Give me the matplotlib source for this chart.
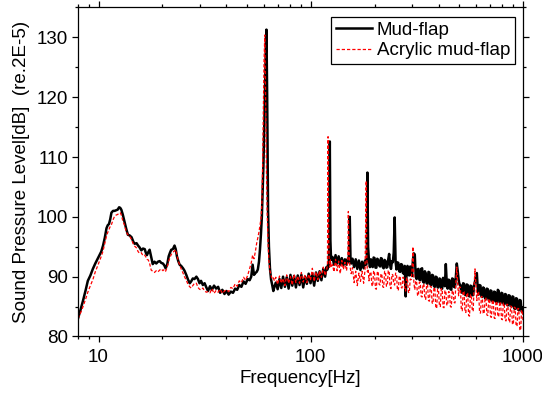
import matplotlib
matplotlib.use('Agg')
import matplotlib.pyplot as plt
from matplotlib.ticker import FixedLocator, NullFormatter, MultipleLocator

plt.rcParams['font.family'] = ['Liberation Sans', 'DejaVu Sans']

# frequency grid (Hz)
freq_hz = [
    # 8 - 33 Hz
    8.0, 8.2, 8.45, 8.7, 8.9, 9.15, 9.4, 9.65, 9.9, 10.1,
    10.3, 10.5, 10.7, 10.9, 11.05, 11.2, 11.35, 11.5, 11.7, 11.9,
    12.1, 12.3, 12.5, 12.65, 12.8, 13.0, 13.25, 13.5, 13.75, 14.0,
    14.3, 14.6, 14.8, 15.1, 15.35, 15.6, 15.9, 16.2, 16.5, 16.7,
    16.9, 17.15, 17.4, 17.7, 18.0, 18.35, 18.7, 19.05, 19.4, 19.75,
    20.1, 20.4, 20.7, 21.05, 21.4, 21.7, 22.0, 22.4, 22.8, 23.1,
    23.4, 23.75, 24.1, 24.5, 25.0, 25.4, 25.9, 26.4, 26.9, 27.3,
    27.8, 28.3, 28.9, 29.4, 29.9, 30.4, 31.0, 31.6, 32.2, 32.8,
    # 33 - 67 Hz
    33.5, 34.2, 35.0, 35.8, 36.6, 37.4, 38.3, 39.2, 40.1, 41.0,
    42.0, 43.0, 44.0, 45.0, 46.0, 47.1, 48.2, 49.3, 50.4, 51.5,
    52.4, 53.2, 54.0, 54.8, 55.6, 56.3, 57.0, 57.6, 58.2, 58.8,
    59.3, 59.8, 60.2, 60.7, 61.2, 61.8, 62.3, 62.9, 63.5, 64.2,
    65.0, 65.8, 66.6, 67.4,
    # 68 - 119 Hz
    68.4, 69.8, 71.2, 72.6, 74.0, 75.5, 77.0, 78.6, 80.2, 81.8,
    83.4, 85.1, 86.8, 88.5, 90.3, 92.1, 93.9, 95.8, 97.7, 99.7,
    101.7, 103.7, 105.8, 107.9, 110.0, 112.2, 114.5, 116.8, 118.6,
    # 120 Hz peak
    119.8, 120.6, 121.4, 122.2, 122.9, 123.7, 124.6,
    # 126 - 155 Hz
    126.5, 128.6, 130.8, 133.0, 135.3, 137.6, 140.0, 142.4, 144.8, 147.3,
    149.4, 150.3, 151.2, 152.6, 153.8, 155.0,
    # 157 - 190 Hz
    157.2, 160.0, 162.8, 165.6, 168.5, 171.4, 174.4, 177.4, 180.2, 182.4,
    183.6, 184.8, 186.2, 188.0, 190.0,
    # 192 - 1000 Hz
    192.0, 193.9, 195.8, 197.7, 199.7, 201.7, 203.7, 205.7, 207.8, 209.9,
    212.0, 214.1, 216.2, 218.3, 220.5, 222.7, 224.9, 227.1, 229.4, 231.7,
    234.0, 236.3, 238.7, 241.1, 243.5, 245.9, 248.4, 250.9, 253.4, 255.9,
    258.5, 261.1, 263.7, 266.3, 269.0, 271.7, 274.4, 277.1, 279.9, 282.7,
    285.5, 288.3, 291.2, 294.1, 297.0, 299.9, 302.9, 305.9, 309.0, 312.1,
    315.2, 318.3, 321.5, 324.7, 327.9, 331.2, 334.5, 337.8, 341.2, 344.6,
    348.0, 351.5, 355.0, 358.5, 362.1, 365.7, 369.3, 373.0, 376.7, 380.4,
    384.2, 388.0, 391.9, 395.8, 399.7, 403.7, 407.7, 411.8, 415.9, 420.0,
    424.2, 428.4, 432.7, 437.0, 441.4, 445.8, 450.2, 454.7, 459.2, 463.8,
    468.4, 473.1, 477.8, 482.6, 487.4, 492.2, 497.1, 502.0, 507.0, 512.0,
    517.1, 522.2, 527.4, 532.6, 537.9, 543.3, 548.7, 554.2, 559.7, 565.3,
    570.9, 576.6, 582.3, 588.1, 593.9, 599.8, 605.8, 611.8, 617.9, 624.1,
    630.3, 636.6, 642.9, 649.3, 655.8, 662.3, 668.9, 675.6, 682.3, 689.1,
    695.9, 702.8, 709.8, 716.9, 724.0, 731.2, 738.5, 745.9, 753.3, 760.8,
    768.4, 776.1, 783.8, 791.6, 799.5, 807.5, 815.5, 823.6, 831.8, 840.1,
    848.4, 856.9, 865.4, 874.0, 882.7, 891.5, 900.4, 909.4, 918.4, 927.6,
    936.8, 946.1, 955.5, 965.0, 974.6, 984.3, 994.1, 1000.0,
]

mud_flap_db = [
    83.0, 84.3, 86.0, 87.8, 89.3, 90.2, 91.3, 92.2, 93.0, 93.6,
    94.2, 95.2, 96.5, 98.1, 98.6, 98.8, 99.6, 100.7, 101.0, 101.0,
    101.1, 101.2, 101.6, 101.5, 101.2, 100.4, 99.2, 98.0, 97.0, 96.9,
    96.6, 95.8, 95.5, 95.6, 95.2, 94.9, 94.4, 94.7, 94.6, 94.0,
    93.6, 94.1, 94.5, 93.3, 92.1, 92.5, 92.2, 92.5, 92.6, 92.3,
    92.2, 91.9, 91.4, 92.0, 93.4, 94.0, 94.5, 94.6, 95.2, 94.6,
    93.4, 92.6, 92.0, 91.8, 91.4, 91.0, 90.3, 89.5, 88.9, 89.2,
    89.7, 89.6, 90.0, 89.6, 88.9, 89.3, 88.6, 88.9, 88.2, 87.6,
    88.4, 87.8, 88.5, 88.0, 88.3, 87.3, 87.8, 87.1, 87.6, 87.0,
    87.5, 87.3, 88.0, 87.8, 88.6, 88.3, 89.2, 88.8, 89.6, 89.4,
    90.0, 92.0, 90.3, 90.6, 90.8, 91.2, 92.5, 94.5, 97.0, 100.0,
    104.0, 108.5, 113.0, 119.0, 126.0, 131.3, 120.0, 101.0, 95.0, 91.4,
    89.5, 88.6, 87.6, 88.3,
    89.0, 87.9, 89.6, 88.1, 90.0, 88.3, 89.9, 88.0, 90.3, 88.5,
    90.1, 88.2, 90.2, 88.6, 90.3, 88.2, 90.0, 88.8, 90.5, 88.9,
    90.5, 88.5, 90.7, 89.3, 90.9, 89.4, 91.3, 90.0, 91.6,
    91.2, 92.0, 91.6, 95.0, 112.6, 96.0, 92.8,
    93.3, 92.0, 93.6, 92.2, 93.4, 92.0, 93.1, 91.9, 92.9, 92.0,
    93.0, 92.4, 93.6, 100.0, 93.2, 92.2,
    93.0, 91.6, 92.9, 91.3, 92.7, 91.1, 92.5, 91.4, 92.7, 92.0,
    93.0, 107.4, 95.0, 92.6, 91.6,
    92.9, 91.8, 91.6, 93.2, 93.1, 91.5, 91.5, 93.0, 92.8, 91.9,
    91.7, 93.1, 93.0, 91.6, 91.4, 92.8, 92.6, 91.5, 91.6, 92.9,
    93.8, 92.0, 91.3, 92.6, 92.4, 94.0, 99.9, 92.5, 91.2, 92.4,
    92.3, 90.9, 90.8, 92.1, 92.0, 90.6, 90.5, 91.8, 86.7, 90.4,
    91.8, 90.3, 90.2, 91.7, 91.6, 90.1, 92.8, 93.9, 93.7, 90.0,
    89.6, 91.2, 91.3, 89.5, 89.4, 91.3, 91.4, 89.2, 89.0, 90.9,
    90.6, 88.9, 88.8, 90.8, 90.7, 88.7, 88.6, 90.3, 90.2, 88.4,
    88.3, 90.0, 89.9, 88.2, 88.2, 89.7, 89.6, 88.1, 88.0, 89.8,
    89.7, 88.4, 92.1, 89.0, 88.0, 89.5, 89.4, 87.9, 87.8, 89.7,
    89.6, 88.3, 88.2, 90.0, 92.2, 91.0, 89.5, 88.7, 88.6, 87.4,
    87.3, 88.9, 88.8, 87.0, 86.9, 88.7, 88.6, 86.8, 86.7, 88.5,
    88.4, 86.9, 86.9, 88.6, 89.2, 90.2, 90.6, 88.0, 87.0, 88.6,
    88.5, 86.7, 86.6, 88.2, 88.0, 86.4, 86.3, 88.0, 87.9, 86.1,
    86.0, 87.7, 87.6, 85.9, 85.8, 87.5, 87.4, 85.8, 85.7, 87.8,
    87.6, 85.7, 85.6, 87.3, 87.2, 85.5, 85.4, 87.1, 87.0, 85.3,
    85.2, 86.9, 86.8, 85.1, 85.0, 86.7, 86.6, 84.7, 84.6, 86.4,
    86.3, 84.5, 84.4, 86.1, 86.0, 84.2, 84.2, 84.8,
]

acrylic_db = [
    83.0, 83.8, 85.0, 86.3, 87.4, 88.5, 89.5, 90.8, 91.8, 92.6,
    93.4, 94.3, 95.6, 96.8, 97.4, 97.9, 98.4, 98.7, 99.5, 100.1,
    100.3, 100.4, 100.6, 100.7, 100.3, 99.4, 98.6, 97.5, 97.0, 96.8,
    96.2, 95.4, 95.1, 94.8, 94.2, 93.9, 94.0, 93.5, 93.6, 93.3,
    92.9, 92.8, 92.2, 91.1, 90.9, 90.7, 91.0, 90.8, 91.1, 91.3,
    91.0, 91.2, 90.9, 91.6, 92.6, 93.2, 93.7, 94.1, 94.3, 94.5,
    93.6, 92.6, 92.0, 91.3, 90.6, 90.0, 89.4, 88.7, 88.3, 88.1,
    88.5, 88.9, 88.9, 88.2, 87.9, 87.8, 88.1, 87.6, 87.4, 87.5,
    87.3, 88.0, 87.2, 87.7, 87.4, 87.9, 87.2, 87.6, 87.8, 87.5,
    88.2, 88.0, 88.8, 88.4, 89.3, 89.0, 89.9, 89.4, 90.2, 91.4,
    92.3, 93.6, 93.0, 94.2, 95.6, 96.5, 97.5, 98.6, 99.6, 102.0,
    109.0, 118.0, 126.0, 130.4, 121.0, 108.0, 100.5, 95.5, 92.5, 91.0,
    90.2, 89.6, 89.8, 89.3,
    89.9, 88.7, 90.1, 88.9, 89.7, 88.5, 90.3, 88.9, 90.0, 88.6,
    90.4, 89.0, 90.1, 88.9, 90.7, 89.1, 90.3, 89.0, 90.4, 89.4,
    91.4, 89.2, 90.8, 89.5, 91.0, 89.9, 91.6, 90.2, 91.0,
    92.0, 113.4, 96.5, 92.6, 91.6, 92.8, 91.6,
    92.0, 90.8, 92.9, 91.0, 92.6, 90.5, 92.7, 91.2, 92.4, 91.0,
    92.4, 100.9, 94.5, 92.0, 91.2, 90.5,
    91.5, 89.0, 90.9, 88.5, 90.6, 89.2, 90.9, 88.9, 91.2, 106.0,
    93.0, 90.8, 91.3, 89.3, 90.6,
    90.8, 88.6, 88.4, 91.0, 90.6, 88.0, 87.9, 90.7, 90.9, 88.7,
    88.6, 90.5, 90.4, 88.3, 88.2, 90.9, 90.8, 88.4, 88.5, 91.0,
    91.0, 88.2, 88.0, 90.4, 90.3, 88.8, 88.6, 90.6, 90.5, 87.8,
    87.7, 90.1, 90.0, 88.2, 88.1, 89.9, 89.8, 87.7, 87.6, 89.8,
    89.7, 87.4, 87.3, 89.6, 89.5, 91.0, 95.0, 89.0, 87.8, 89.3,
    89.2, 86.9, 86.8, 89.1, 89.0, 86.7, 86.6, 88.8, 88.7, 86.3,
    86.2, 88.7, 88.6, 86.0, 85.9, 88.4, 88.3, 85.6, 85.5, 88.2,
    88.1, 84.8, 84.7, 87.9, 87.8, 85.1, 85.0, 88.0, 87.9, 84.9,
    84.8, 87.7, 87.6, 85.3, 85.2, 87.5, 87.4, 85.0, 84.9, 87.7,
    87.6, 85.7, 85.6, 89.0, 91.6, 88.8, 86.8, 88.3, 88.2, 84.4,
    84.3, 87.6, 87.5, 84.1, 84.0, 87.3, 87.2, 83.5, 83.4, 87.0,
    86.9, 84.3, 84.2, 88.5, 91.3, 88.8, 86.0, 87.5, 87.4, 84.0,
    83.9, 86.7, 86.6, 83.9, 83.8, 86.5, 86.4, 83.6, 83.5, 86.3,
    86.2, 83.3, 83.2, 86.1, 86.0, 83.1, 83.0, 85.9, 85.8, 83.4,
    83.3, 85.8, 85.7, 82.9, 82.8, 85.6, 85.5, 82.7, 82.6, 85.4,
    85.3, 82.5, 82.4, 85.1, 85.0, 82.1, 82.0, 84.9, 84.8, 81.8,
    81.7, 84.7, 84.6, 81.2, 81.0, 84.4, 84.3, 82.5,
]

series_labels = ['Mud-flap', 'Acrylic mud-flap']
x_ticks = [10, 100, 1000]
x_tick_labels = ['10', '100', '1000']
y_ticks = [80, 90, 100, 110, 120, 130]

assert len(freq_hz) == len(mud_flap_db) == len(acrylic_db)

fig = plt.figure(figsize=(5.42, 3.94), dpi=100)
ax = fig.add_axes([0.1439, 0.146, 0.8211, 0.835])

ax.plot(freq_hz, mud_flap_db, color='black', linewidth=1.8, label=series_labels[0])
ax.plot(freq_hz, acrylic_db, color='#ff0000', linewidth=0.9, linestyle=(0, (2.6, 1.6)),
        label=series_labels[1])

ax.set_xscale('log')
ax.set_xlim(8, 1000)
ax.set_ylim(80, 135)

ax.xaxis.set_major_locator(FixedLocator(x_ticks))
ax.set_xticklabels(x_tick_labels)
minor_x = [m * d for d in (1, 10, 100) for m in range(2, 10)]
ax.xaxis.set_minor_locator(FixedLocator(minor_x))
ax.xaxis.set_minor_formatter(NullFormatter())
ax.set_yticks(y_ticks)
ax.yaxis.set_minor_locator(MultipleLocator(5))

ax.tick_params(which='both', direction='out', top=True, right=True,
               labeltop=False, labelright=False, width=0.9)
ax.tick_params(which='major', length=4, labelsize=13.5, pad=3)
ax.tick_params(axis='x', which='major', pad=5)
ax.tick_params(which='minor', length=2.3)
for sp in ax.spines.values():
    sp.set_linewidth(0.9)

ax.set_xlabel('Frequency[Hz]', fontsize=13.5, labelpad=3)
ax.set_ylabel('Sound Pressure Level[dB]  (re.2E-5)', fontsize=13.5, labelpad=5)

leg = ax.legend(loc='upper right', bbox_to_anchor=(0.982, 0.972), borderaxespad=0,
                fontsize=13.5, fancybox=False, framealpha=1, edgecolor='black',
                handlelength=1.95, handletextpad=0.25, borderpad=0.25, labelspacing=0.2)
leg.get_frame().set_linewidth(0.9)

fig.savefig('out.png', dpi=100)
plt.close(fig)
